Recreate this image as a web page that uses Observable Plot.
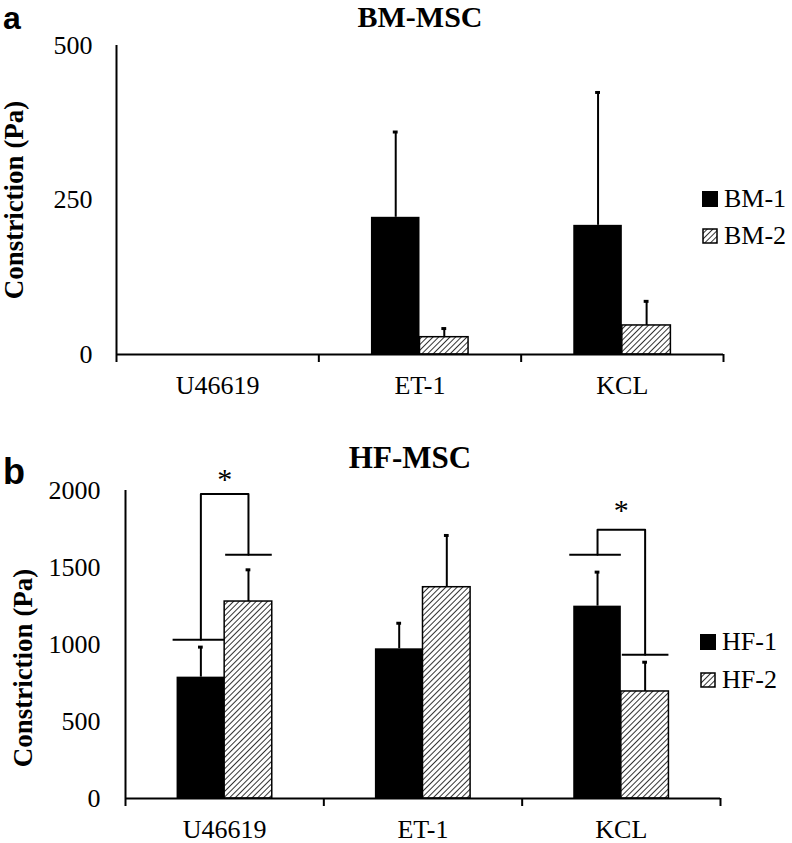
<!DOCTYPE html>
<html><head><meta charset="utf-8">
<script src="https://cdn.jsdelivr.net/npm/d3@7"></script>
<script src="https://cdn.jsdelivr.net/npm/@observablehq/plot@0.6"></script>
<style>
body{margin:0;background:#fff;}
#fig{position:relative;width:792px;height:843px;overflow:hidden;font-family:"Liberation Serif","Times New Roman",serif;color:#000;}
.abs{position:absolute;line-height:1;white-space:nowrap;}
.plot{position:absolute;left:0;}
.plot text{font-family:"Liberation Serif","Times New Roman",serif !important;}
</style></head><body><div id="fig"></div>
<script>
// ---------- data ----------
const categories = ["U46619", "ET-1", "KCL"];

const bmSeries = ["BM-1", "BM-2"];
const bm1 = [0, 222, 209];
const bm1Err = [0, 138, 215];
const bm2 = [0, 28, 47];
const bm2Err = [0, 14, 39];
const bmTicks = [0, 250, 500];

const hfSeries = ["HF-1", "HF-2"];
const hf1 = [788, 972, 1249];
const hf1Err = [195, 166, 221];
const hf2 = [1279, 1372, 695];
const hf2Err = [206, 336, 190];
const hfTicks = [0, 500, 1000, 1500, 2000];

// significance brackets (panel b)
const sigCategory = ["U46619", "KCL"];
const sigLeftLevel = [1031, 1582];
const sigRightLevel = [1582, 933];
const sigTopLevel = [1978, 1745];
const sigStarLevel = [2091, 1892];
const sigLabel = ["*", "*"];

// ---------- helpers ----------
const SERIF = "'Liberation Serif', 'Times New Roman', serif";
const BW = 0.24; // bar width in category units
const fig = document.getElementById("fig");

function rowsFor(m1, e1, m2, e2) {
  const rows = [];
  categories.forEach((cat, i) => {
    const c = i + 0.5;
    rows.push({cat, s: 0, x1: c - BW, x2: c, cx: c - BW / 2, value: m1[i], err: e1[i]});
    rows.push({cat, s: 1, x1: c, x2: c + BW, cx: c + BW / 2, value: m2[i], err: e2[i]});
  });
  return rows;
}

function addHatch(svg, id) {
  const defs = d3.select(svg).insert("defs", ":first-child");
  const p = defs.append("pattern").attr("id", id).attr("patternUnits", "userSpaceOnUse")
    .attr("width", 4).attr("height", 4).attr("patternTransform", "rotate(45)");
  p.append("rect").attr("width", 4).attr("height", 4).attr("fill", "white");
  p.append("line").attr("x1", 0).attr("y1", 0).attr("x2", 0).attr("y2", 4)
    .attr("stroke", "black").attr("stroke-width", 1.6);
}

function panel({rows, ticks, yMax, height, mt, mb, ml, mr, sig, hatchId, yPad}) {
  const marks = [
    Plot.rectY(rows.filter(d => d.s === 0 && d.value > 0), {x1: "x1", x2: "x2", y1: 0, y2: "value", fill: "black"}),
    Plot.rectY(rows.filter(d => d.s === 1 && d.value > 0), {x1: "x1", x2: "x2", y1: 0, y2: "value", fill: `url(#${hatchId})`, stroke: "black", strokeWidth: 1.5}),
    Plot.ruleX(rows.filter(d => d.err > 0), {x: "cx", y1: "value", y2: d => d.value + d.err, strokeWidth: 2}),
    Plot.ruleY(rows.filter(d => d.err > 0), {y: d => d.value + d.err, x1: d => d.cx - 0.012, x2: d => d.cx + 0.012, strokeWidth: 3}),
    Plot.ruleY([0], {strokeWidth: 2}),
    Plot.ruleX([0], {y1: 0, y2: yMax, strokeWidth: 2}),
    Plot.axisY({ticks, label: null, tickSize: 0, tickPadding: yPad, fontSize: 26, fontFamily: SERIF, tickFormat: d => String(d)}),
    Plot.axisX({ticks: [0.5, 1.5, 2.5], label: null, tickSize: 0, tickPadding: 21, fontSize: 26, fontFamily: SERIF, tickFormat: t => categories[Math.floor(t)]}),
    Plot.axisX({ticks: [0, 1, 2, 3], label: null, tickSize: 8, tickFormat: () => "", strokeWidth: 2})
  ];
  if (sig) {
    const br = [], segs = [], stars = [];
    sig.cat.forEach((cat, k) => {
      const c = categories.indexOf(cat) + 0.5;
      br.push({k, x: c - BW / 2, y: sig.left[k]}, {k, x: c - BW / 2, y: sig.top[k]},
              {k, x: c + BW / 2, y: sig.top[k]}, {k, x: c + BW / 2, y: sig.right[k]});
      segs.push({x1: c - BW - 0.02, x2: c, y: sig.left[k]}, {x1: c + 0.005, x2: c + BW, y: sig.right[k]});
      stars.push({x: c, y: sig.star[k], t: sig.label[k]});
    });
    marks.push(
      Plot.line(br, {x: "x", y: "y", z: "k", strokeWidth: 2, curve: "linear"}),
      Plot.ruleY(segs, {x1: "x1", x2: "x2", y: "y", strokeWidth: 2}),
      Plot.text(stars, {x: "x", y: "y", text: "t", fontSize: 30, fontFamily: SERIF, dy: 3, fill: "black"})
    );
  }
  const svg = Plot.plot({
    width: 792, height, marginTop: mt, marginBottom: mb, marginLeft: ml, marginRight: mr,
    x: {domain: [0, 3], axis: null},
    y: {domain: [0, yMax], axis: null},
    style: {fontFamily: SERIF, fontSize: "26px", color: "black", background: "transparent", overflow: "visible"},
    marks
  });
  addHatch(svg, hatchId);
  return svg;
}

function addText(txt, {left, top, size, bold, sans, center}) {
  const d = document.createElement("div");
  d.className = "abs";
  d.textContent = txt;
  d.style.left = left + "px";
  d.style.top = top + "px";
  d.style.fontSize = size + "px";
  if (bold) d.style.fontWeight = "bold";
  if (sans) d.style.fontFamily = "'Liberation Sans', Arial, sans-serif";
  if (center) d.style.transform = "translateX(-50%)";
  fig.appendChild(d);
  return d;
}

function addYLabel(txt, cx, cy) {
  const d = addText(txt, {left: cx, top: cy, size: 27, bold: true});
  d.style.transform = "translate(-50%,-50%) rotate(-90deg)";
}

function addLegend(names, left, tops) {
  names.forEach((n, k) => {
    const box = document.createElementNS("http://www.w3.org/2000/svg", "svg");
    box.setAttribute("width", 17); box.setAttribute("height", 17);
    box.style.position = "absolute";
    box.style.left = left + "px";
    box.style.top = (tops[k] + 5) + "px";
    if (k === 0) {
      box.innerHTML = '<rect x="0" y="0" width="16" height="16" fill="black"/>';
    } else {
      const id = "lh" + left + "_" + tops[k];
      box.innerHTML = '<defs><pattern id="' + id + '" patternUnits="userSpaceOnUse" width="4" height="4" patternTransform="rotate(45)"><rect width="4" height="4" fill="white"/><line x1="0" y1="0" x2="0" y2="4" stroke="black" stroke-width="1.6"/></pattern></defs>' +
        '<rect x="1" y="1" width="14" height="14" fill="url(#' + id + ')" stroke="black" stroke-width="1.5"/>';
    }
    fig.appendChild(box);
    addText(n, {left: left + 22, top: tops[k], size: 26});
  });
}

// ---------- panel a ----------
const svgA = panel({
  rows: rowsFor(bm1, bm1Err, bm2, bm2Err), ticks: bmTicks, yMax: 500,
  height: 410, mt: 45, mb: 56, ml: 116, mr: 69, hatchId: "hatchA", yPad: 24
});
svgA.classList.add("plot"); svgA.style.top = "0px";
fig.appendChild(svgA);

// ---------- panel b ----------
const svgB = panel({
  rows: rowsFor(hf1, hf1Err, hf2, hf2Err), ticks: hfTicks, yMax: 2000,
  height: 433, mt: 80, mb: 45, ml: 125, mr: 72, hatchId: "hatchB", yPad: 25,
  sig: {cat: sigCategory, left: sigLeftLevel, right: sigRightLevel, top: sigTopLevel, star: sigStarLevel, label: sigLabel}
});
svgB.classList.add("plot"); svgB.style.top = "410px";
fig.appendChild(svgB);

// ---------- titles, labels, legends ----------
addText("a", {left: 3, top: 2, size: 32, bold: true, sans: true});
addText("BM-MSC", {left: 420, top: 2, size: 30, bold: true, center: true});
addYLabel("Constriction (Pa)", 14, 200);
addLegend(bmSeries, 702, [186, 223]);

addText("b", {left: 3, top: 454, size: 36, bold: true, sans: true});
addText("HF-MSC", {left: 410, top: 442, size: 31, bold: true, center: true});
addYLabel("Constriction (Pa)", 23, 668);
addLegend(hfSeries, 700, [629, 667]);
</script></body></html>
